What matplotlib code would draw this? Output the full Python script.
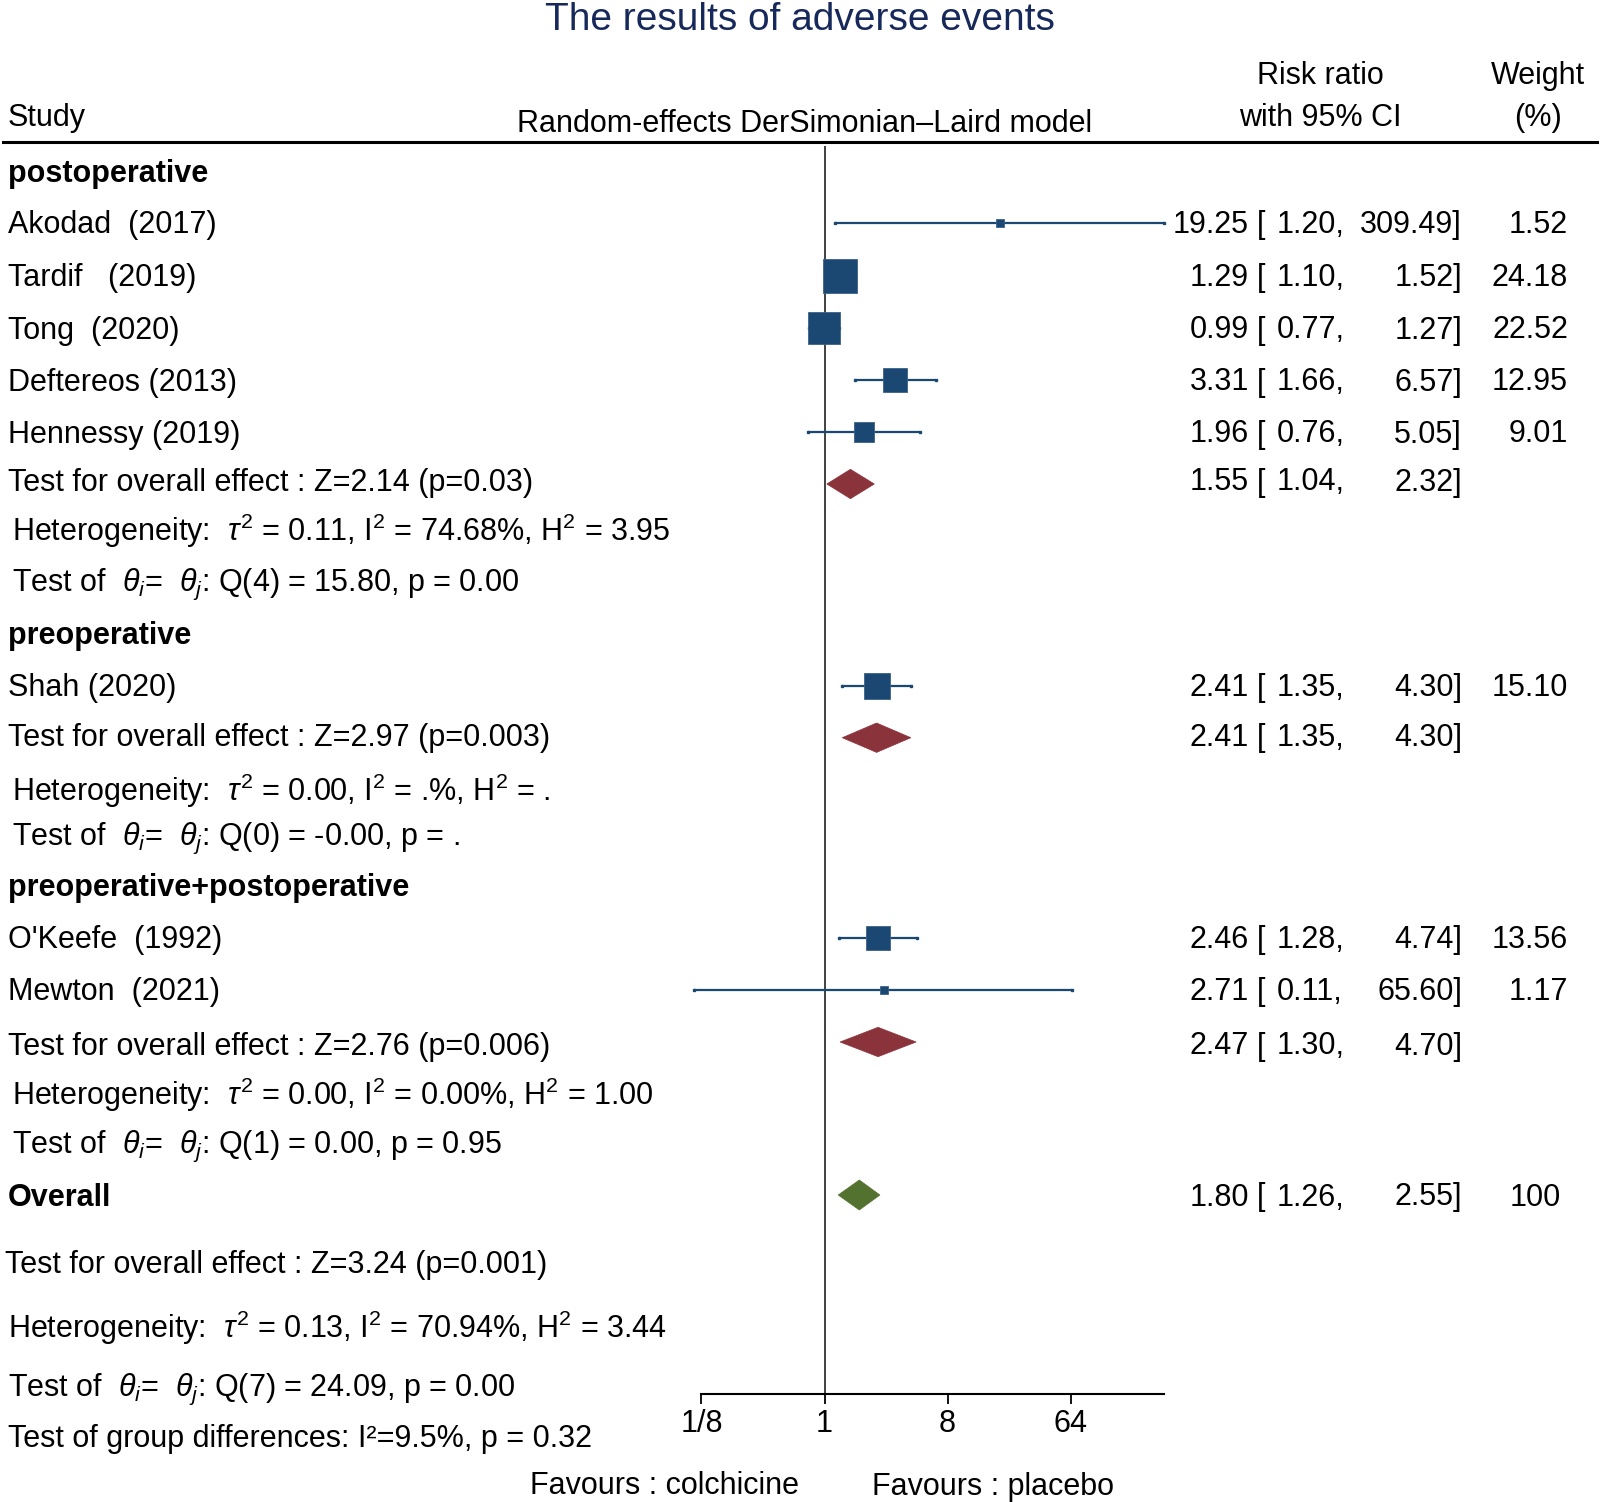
import numpy as np
import matplotlib
matplotlib.use('Agg')
import matplotlib.pyplot as plt
from matplotlib.patches import Polygon
from matplotlib.lines import Line2D
import matplotlib.transforms as mtransforms

plt.rcParams['font.family'] = ['Liberation Sans', 'DejaVu Sans']
plt.rcParams['mathtext.fontset'] = 'custom'
plt.rcParams['mathtext.rm'] = 'Liberation Sans'
plt.rcParams['mathtext.it'] = 'Liberation Sans:italic'
plt.rcParams['mathtext.bf'] = 'Liberation Sans:bold'

# ---------------- data ----------------
studies = ["Akodad  (2017)", "Tardif   (2019)", "Tong  (2020)", "Deftereos (2013)",
           "Hennessy (2019)", "Shah (2020)", "O'Keefe  (1992)", "Mewton  (2021)"]
rr = [19.25, 1.29, 0.99, 3.31, 1.96, 2.41, 2.46, 2.71]
rr_lo = [1.20, 1.10, 0.77, 1.66, 0.76, 1.35, 1.28, 0.11]
rr_hi = [309.49, 1.52, 1.27, 6.57, 5.05, 4.30, 4.74, 65.60]
weights = [1.52, 24.18, 22.52, 12.95, 9.01, 15.10, 13.56, 1.17]

groups = ["postoperative", "preoperative", "preoperative+postoperative"]
group_rr = [1.55, 2.41, 2.47]
group_lo = [1.04, 1.35, 1.30]
group_hi = [2.32, 4.30, 4.70]
group_test = ["Z=2.14 (p=0.03)", "Z=2.97 (p=0.003)", "Z=2.76 (p=0.006)"]
group_tau2 = ["0.11", "0.00", "0.00"]
group_i2 = ["74.68%", ".%", "0.00%"]
group_h2 = ["3.95", ".", "1.00"]
group_q = ["Q(4) = 15.80, p = 0.00", "Q(0) = -0.00, p = .", "Q(1) = 0.00, p = 0.95"]

overall_rr, overall_lo, overall_hi = 1.80, 1.26, 2.55
overall_weight = "100"
overall_test = "Z=3.24 (p=0.001)"
overall_tau2, overall_i2, overall_h2 = "0.13", "70.94%", "3.44"
overall_q = "Q(7) = 24.09, p = 0.00"
group_diff = "Test of group differences: I\u00b2=9.5%, p = 0.32"

tick_vals = [1/8, 1, 8, 64]
tick_labels = ["1/8", "1", "8", "64"]

# ---------------- layout (pixel rows) ----------------
W, H = 1600, 1502
study_y = [222.7, 275.5, 328, 380, 432, 685.6, 937.5, 989.5]
group_head_y = [171.6, 633.5, 885.8]
group_test_y = [480, 735.6, 1044]
group_dia_y = [484, 737.7, 1042]
group_het_y = [528, 788.8, 1092]
group_q_y = [582, 835.7, 1144]
ov_y, ov_test_y, ov_het_y, ov_q_y, gd_y = 1195, 1263, 1325, 1386.5, 1436.5
TXT_DY = 2.5  # small downward shift of text centres

NAVY = '#1b4872'
RED = '#8b333a'
GREEN = '#53712f'
FS = 22

fig = plt.figure(figsize=(W / 100, H / 100), dpi=100)

# axes: x log2, 41.04 px per doubling, x=1 at px 824.5
ppd = 41.04
x_left, x_right = 2.0 ** -5, 2.0 ** 9
axL = 824.5 + ppd * np.log2(x_left)
axR = 824.5 + ppd * np.log2(x_right)
ax_top, ax_bot = 146, 1393.5
ax = fig.add_axes([axL / W, 1 - ax_bot / H, (axR - axL) / W, (ax_bot - ax_top) / H])
ax.set_xscale('log', base=2)
ax.set_xlim(x_left, x_right)
ax.set_ylim(ax_bot, ax_top)
for s in ['top', 'right', 'left']:
    ax.spines[s].set_visible(False)
ax.spines['bottom'].set_linewidth(1.5)
ax.spines['bottom'].set_bounds(min(tick_vals), max(rr_hi))
ax.set_yticks([])
ax.set_xticks(tick_vals)
ax.set_xticklabels(tick_labels, fontsize=FS)
ax.xaxis.set_minor_locator(matplotlib.ticker.NullLocator())
ax.tick_params(axis='x', length=7, width=1.3, pad=4)
ax.patch.set_alpha(0)

ax.axvline(1, color='#333333', lw=1.3, zorder=1)

# studies
for y, m, lo, hi, w in zip(study_y, rr, rr_lo, rr_hi, weights):
    ax.plot([lo, hi], [y, y], color=NAVY, lw=1.6, zorder=2, solid_capstyle='butt')
    ax.plot([lo, hi], [y, y], ls='none', marker='s', ms=1.8, color=NAVY, zorder=2)
    ax.plot([m], [y], marker='s', ms=4.86 * np.sqrt(w), color=NAVY,
            markeredgecolor='#3a6288', markeredgewidth=0.6, zorder=3)


def diamond(lo, m, hi, y, color, h=14.7):
    ax.add_patch(Polygon([[lo, y], [m, y - h], [hi, y], [m, y + h]], closed=True,
                         facecolor=color, edgecolor=color, lw=0.5, zorder=3))


for lo, m, hi, y in zip(group_lo, group_rr, group_hi, group_dia_y):
    diamond(lo, m, hi, y, RED)
diamond(overall_lo, overall_rr, overall_hi, ov_y, GREEN, h=15)

# ---------------- texts ----------------
tr = mtransforms.blended_transform_factory(fig.transFigure, ax.transData)


def T(xpx, y, s, ha='left', **kw):
    kw.setdefault('fontsize', FS)
    ax.text(xpx / W, y + TXT_DY, s, transform=tr, ha=ha, va='center', clip_on=False, **kw)


def rr_cols(y, m, lo, hi):
    T(1249, y, f"{m:.2f}", ha='right')
    T(1257, y, "[", ha='left')
    T(1277, y, f"{lo:.2f},", ha='left')
    T(1462, y, f"{hi:.2f}]", ha='right')


for name, y, m, lo, hi, w in zip(studies, study_y, rr, rr_lo, rr_hi, weights):
    T(8, y, name)
    rr_cols(y, m, lo, hi)
    T(1568, y, f"{w:.2f}", ha='right')

for i in range(3):
    T(8, group_head_y[i], groups[i], fontweight='bold')
    T(8, group_test_y[i], "Test for overall effect : " + group_test[i])
    rr_cols(group_test_y[i], group_rr[i], group_lo[i], group_hi[i])
    T(12, group_het_y[i], r"Heterogeneity:  $\it{\tau}^{2}$ = " + group_tau2[i] +
      r", I$^{2}$ = " + group_i2[i] + r", H$^{2}$ = " + group_h2[i])
    T(12, group_q_y[i], r"Test of  $\it{\theta}_{i}$=  $\it{\theta}_{j}$: " + group_q[i])

T(8, ov_y, "Overall", fontweight='bold')
rr_cols(ov_y, overall_rr, overall_lo, overall_hi)
T(1535, ov_y, overall_weight, ha='center')
T(5, ov_test_y, "Test for overall effect : " + overall_test)
T(8, ov_het_y, r"Heterogeneity:  $\it{\tau}^{2}$ = " + overall_tau2 +
  r", I$^{2}$ = " + overall_i2 + r", H$^{2}$ = " + overall_h2)
T(8, ov_q_y, r"Test of  $\it{\theta}_{i}$=  $\it{\theta}_{j}$: " + overall_q)
T(8, gd_y, group_diff)

T(665, 1484, "Favours : colchicine", ha='center')
T(993, 1484, "Favours : placebo", ha='center')

# header
fig.text(0.5, 1 - 19.5 / H, "The results of adverse events", ha='center', va='center',
         fontsize=28, color='#17295a')
fig.text(8 / W, 1 - 118 / H, "Study", ha='left', va='center', fontsize=FS)
fig.text(805 / W, 1 - 124 / H, "Random-effects DerSimonian\u2013Laird model", ha='center',
         va='center', fontsize=FS)
fig.text(1320 / W, 1 - 76 / H, "Risk ratio", ha='center', va='center', fontsize=FS)
fig.text(1320 / W, 1 - 118 / H, "with 95% CI", ha='center', va='center', fontsize=FS)
fig.text(1538 / W, 1 - 76 / H, "Weight", ha='center', va='center', fontsize=FS)
fig.text(1538 / W, 1 - 118 / H, "(%)", ha='center', va='center', fontsize=FS)
fig.add_artist(Line2D([0.002, 0.998], [1 - 142 / H, 1 - 142 / H], transform=fig.transFigure,
                      color='black', lw=2.2))

fig.savefig('out.png', dpi=100)
